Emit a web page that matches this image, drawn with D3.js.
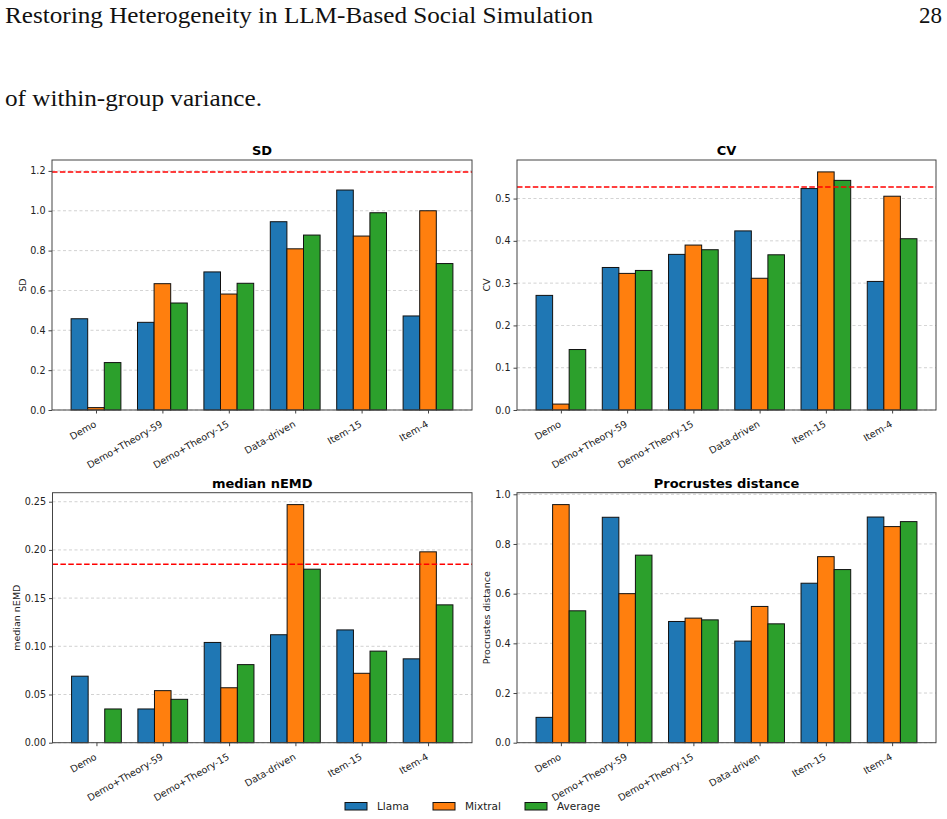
<!DOCTYPE html>
<html lang="en">
<head>
<meta charset="UTF-8">
<title>Heterogeneity metrics</title>
<script src="https://d3js.org/d3.v7.min.js"></script>
<style>
    body { margin: 0; background: #fff; }
    svg text { font-family: "DejaVu Sans", sans-serif; }
    .page { font-family: "Liberation Serif", "DejaVu Serif", serif !important; fill: #111; }
</style>
</head>
<body>
<svg width="947" height="819"></svg>
<script>
    // categories and series
    const categories = ["Demo", "Demo+Theory-59", "Demo+Theory-15", "Data-driven", "Item-15", "Item-4"];
    const seriesNames = ["Llama", "Mixtral", "Average"];
    const seriesColors = ["#1f77b4", "#ff7f0e", "#2ca02c"];

    // SD
    const sdLlama = [0.458, 0.440, 0.693, 0.945, 1.104, 0.472];
    const sdMixtral = [0.012, 0.634, 0.582, 0.809, 0.873, 1.000];
    const sdAverage = [0.238, 0.537, 0.636, 0.878, 0.990, 0.735];
    const sdRef = 1.195;
    const sdTicks = [0, 0.2, 0.4, 0.6, 0.8, 1.0, 1.2];

    // CV
    const cvLlama = [0.271, 0.337, 0.368, 0.4235, 0.5236, 0.304];
    const cvMixtral = [0.014, 0.323, 0.390, 0.3115, 0.563, 0.5055];
    const cvAverage = [0.143, 0.330, 0.379, 0.367, 0.543, 0.405];
    const cvRef = 0.5276;
    const cvTicks = [0, 0.1, 0.2, 0.3, 0.4, 0.5];

    // median nEMD
    const emdLlama = [0.069, 0.035, 0.104, 0.112, 0.117, 0.087];
    const emdMixtral = [0.000, 0.054, 0.057, 0.247, 0.072, 0.198];
    const emdAverage = [0.035, 0.045, 0.081, 0.180, 0.095, 0.143];
    const emdRef = 0.185;
    const emdTicks = [0, 0.05, 0.10, 0.15, 0.20, 0.25];

    // Procrustes distance
    const procLlama = [0.102, 0.9075, 0.488, 0.409, 0.642, 0.9085];
    const procMixtral = [0.9585, 0.600, 0.5015, 0.5485, 0.749, 0.870];
    const procAverage = [0.531, 0.755, 0.4945, 0.4785, 0.697, 0.890];
    const procTicks = [0, 0.2, 0.4, 0.6, 0.8, 1.0];

    const panels = [
        { title: "SD", ylabel: "SD", series: [sdLlama, sdMixtral, sdAverage], ref: sdRef, ticks: sdTicks, fmt: ".1f",
          x0: 52, x1: 472, y0: 160, y1: 410, labelX: 23 },
        { title: "CV", ylabel: "CV", series: [cvLlama, cvMixtral, cvAverage], ref: cvRef, ticks: cvTicks, fmt: ".1f",
          x0: 517, x1: 936, y0: 160, y1: 410, labelX: 487 },
        { title: "median nEMD", ylabel: "median nEMD", series: [emdLlama, emdMixtral, emdAverage], ref: emdRef, ticks: emdTicks, fmt: ".2f",
          x0: 52.5, x1: 472, y0: 492.7, y1: 742.7, labelX: 17 },
        { title: "Procrustes distance", ylabel: "Procrustes distance", series: [procLlama, procMixtral, procAverage], ref: null, ticks: procTicks, fmt: ".1f",
          x0: 517, x1: 936, y0: 492.7, y1: 742.7, labelX: 487 }
    ];

    const svg = d3.select("svg");

    // page text around the figure
    svg.append("text").attr("class", "page").attr("x", 5).attr("y", 23)
        .attr("font-size", 23).attr("textLength", 588).attr("lengthAdjust", "spacingAndGlyphs")
        .text("Restoring Heterogeneity in LLM-Based Social Simulation");
    svg.append("text").attr("class", "page").attr("x", 942).attr("y", 23)
        .attr("font-size", 23).attr("text-anchor", "end")
        .text("28");
    svg.append("text").attr("class", "page").attr("x", 5).attr("y", 106)
        .attr("font-size", 23).attr("textLength", 257).attr("lengthAdjust", "spacingAndGlyphs")
        .text("of within-group variance.");

    const barW = 0.25;

    panels.forEach(p => {
        const g = svg.append("g");
        const x = d3.scaleLinear()
            .domain([-0.375 - 0.2875, categories.length - 1 + 0.375 + 0.2875])
            .range([p.x0, p.x1]);
        const top = d3.max([...p.series.flat(), p.ref || 0]) * 1.05;
        const y = d3.scaleLinear().domain([0, top]).range([p.y1, p.y0]);

        // grid
        g.append("g").selectAll("line").data(p.ticks).join("line")
            .attr("x1", p.x0).attr("x2", p.x1)
            .attr("y1", d => y(d)).attr("y2", d => y(d))
            .attr("stroke", "#b0b0b0").attr("stroke-width", 0.8)
            .attr("stroke-dasharray", "3,2.5").attr("opacity", 0.7);

        // bars
        p.series.forEach((vals, k) => {
            g.append("g").selectAll("rect").data(vals).join("rect")
                .attr("x", (d, i) => x(i + (k - 1) * barW - barW / 2))
                .attr("width", x(barW) - x(0))
                .attr("y", d => y(d))
                .attr("height", d => y(0) - y(d))
                .attr("fill", seriesColors[k])
                .attr("stroke", "#111").attr("stroke-width", 1);
        });

        // reference line
        if (p.ref !== null) {
            g.append("line")
                .attr("x1", p.x0).attr("x2", p.x1)
                .attr("y1", y(p.ref)).attr("y2", y(p.ref))
                .attr("stroke", "red").attr("stroke-width", 1.5)
                .attr("stroke-dasharray", "5.5,2.4");
        }

        // frame
        g.append("rect").attr("x", p.x0).attr("y", p.y0)
            .attr("width", p.x1 - p.x0).attr("height", p.y1 - p.y0)
            .attr("fill", "none").attr("stroke", "#444").attr("stroke-width", 1);

        // y axis
        const yAxis = g.append("g").attr("transform", `translate(${p.x0},0)`)
            .call(d3.axisLeft(y).tickValues(p.ticks).tickFormat(d3.format(p.fmt)).tickSize(3.5).tickPadding(3));
        yAxis.select(".domain").remove();
        yAxis.selectAll("line").attr("stroke", "#444");
        yAxis.selectAll("text").attr("font-size", 9.6).attr("fill", "#222");

        // x axis
        const xAxis = g.append("g").attr("transform", `translate(0,${p.y1})`)
            .call(d3.axisBottom(x).tickValues(d3.range(categories.length)).tickFormat(i => categories[i]).tickSize(3.5));
        xAxis.select(".domain").remove();
        xAxis.selectAll("line").attr("stroke", "#444");
        xAxis.selectAll("text")
            .attr("font-size", 9.6).attr("fill", "#222")
            .attr("text-anchor", "end")
            .attr("dy", null).attr("y", null)
            .attr("transform", "translate(0.5,16) rotate(-30)");

        // title
        g.append("text").attr("x", (p.x0 + p.x1) / 2).attr("y", p.y0 - 5)
            .attr("text-anchor", "middle").attr("font-size", 13).attr("font-weight", "bold")
            .attr("fill", "#000").text(p.title);

        // y label
        g.append("text")
            .attr("transform", `translate(${p.labelX},${(p.y0 + p.y1) / 2}) rotate(-90)`)
            .attr("text-anchor", "middle").attr("dy", "0.35em")
            .attr("font-size", 9.5).attr("fill", "#222").text(p.ylabel);
    });

    // legend
    const legendX = [345, 433, 525];
    const legend = svg.append("g");
    seriesNames.forEach((name, k) => {
        legend.append("rect").attr("x", legendX[k]).attr("y", 802.5)
            .attr("width", 22).attr("height", 7.5)
            .attr("fill", seriesColors[k]).attr("stroke", "#111").attr("stroke-width", 1);
        legend.append("text").attr("x", legendX[k] + 32).attr("y", 810)
            .attr("font-size", 10.5).attr("fill", "#222").text(name);
    });
</script>
</body>
</html>
